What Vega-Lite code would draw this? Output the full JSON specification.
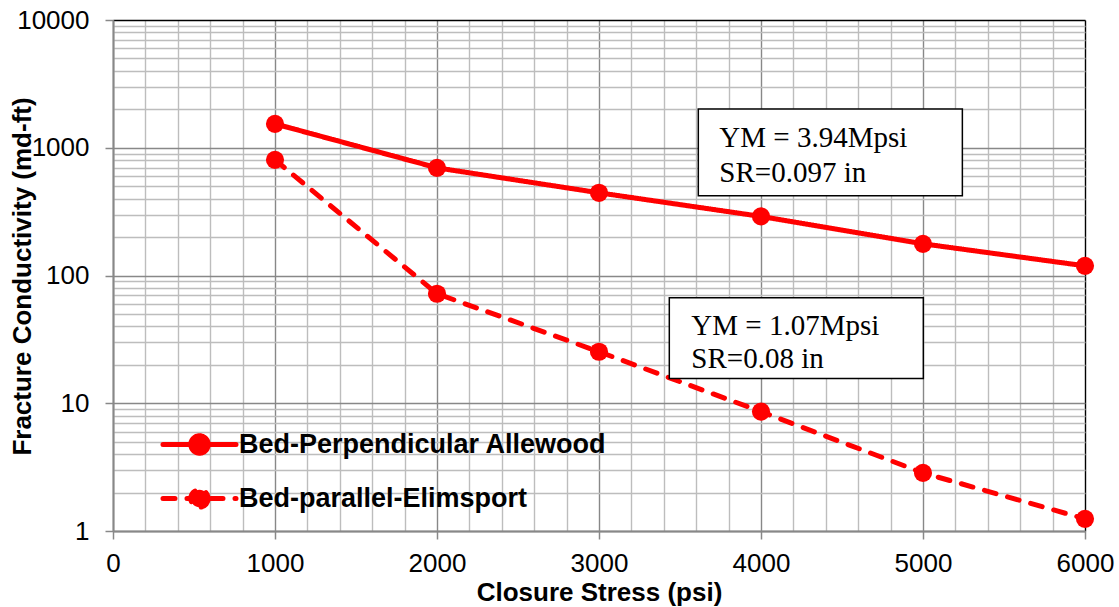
{
  "$schema": "https://vega.github.io/schema/vega-lite/v6.json",
  "width": 972,
  "height": 511,
  "autosize": {"type": "none"},
  "padding": {"left": 113, "top": 20, "right": 34, "bottom": 76},
  "background": "white",
  "config": {
    "view": {"stroke": null},
    "font": "Liberation Sans"
  },
  "data": {
    "values": [
      {"stress": 1000, "cond": 1538, "series": "Bed-Perpendicular Allewood"},
      {"stress": 2000, "cond": 696, "series": "Bed-Perpendicular Allewood"},
      {"stress": 3000, "cond": 444, "series": "Bed-Perpendicular Allewood"},
      {"stress": 4000, "cond": 290, "series": "Bed-Perpendicular Allewood"},
      {"stress": 5000, "cond": 177, "series": "Bed-Perpendicular Allewood"},
      {"stress": 6000, "cond": 119, "series": "Bed-Perpendicular Allewood"},
      {"stress": 1000, "cond": 804, "series": "Bed-parallel-Elimsport"},
      {"stress": 2000, "cond": 72, "series": "Bed-parallel-Elimsport"},
      {"stress": 3000, "cond": 25.3, "series": "Bed-parallel-Elimsport"},
      {"stress": 4000, "cond": 8.6, "series": "Bed-parallel-Elimsport"},
      {"stress": 5000, "cond": 2.85, "series": "Bed-parallel-Elimsport"},
      {"stress": 6000, "cond": 1.245, "series": "Bed-parallel-Elimsport"}
    ]
  },
  "encoding": {
    "x": {
      "field": "stress", "type": "quantitative",
      "scale": {"domain": [0, 6000], "nice": false, "zero": false},
      "axis": {
        "title": "Closure Stress (psi)",
        "values": [0,200,400,600,800,1000,1200,1400,1600,1800,2000,2200,2400,2600,2800,3000,3200,3400,3600,3800,4000,4200,4400,4600,4800,5000,5200,5400,5600,5800,6000],
        "format": "d",
        "labelExpr": "datum.value % 1000 == 0 ? datum.label : ''",
        "labelOverlap": false,
        "labelFlush": false,
        "labelBound": false,
        "labelFont": "Liberation Sans",
        "labelFontSize": 26,
        "labelColor": "#000000",
        "labelBaseline": "alphabetic",
        "labelPadding": 32,
        "tickSize": 8,
        "tickWidth": 1.5,
        "tickColor": "#888888",
        "tickOpacity": {"condition": {"test": "datum.value % 1000 == 0", "value": 1}, "value": 0},
        "domainColor": "#888888",
        "domainWidth": 2,
        "grid": true,
        "gridWidth": 1.4,
        "gridOpacity": 1,
        "gridColor": {"condition": [{"test": "datum.value == 6000", "value": "#000000"}, {"test": "datum.value % 1000 == 0", "value": "#888888"}], "value": "#bdbdbd"},
        "titleFont": "Liberation Sans",
        "titleFontSize": 26,
        "titleFontWeight": "bold",
        "titleColor": "#000000",
        "titleX": 486,
        "titleY": 69,
        "titleAlign": "center",
        "titleBaseline": "alphabetic"
      }
    },
    "y": {
      "field": "cond", "type": "quantitative",
      "scale": {"type": "log", "domain": [1, 10000], "nice": false},
      "axis": {
        "title": "Fracture Conductivity (md-ft)",
        "values": [1,2,3,4,5,6,7,8,9,10,20,30,40,50,60,70,80,90,100,200,300,400,500,600,700,800,900,1000,2000,3000,4000,5000,6000,7000,8000,9000,10000],
        "format": "d",
        "labelExpr": "indexof([1,10,100,1000,10000], datum.value) >= 0 ? datum.label : ''",
        "labelOverlap": false,
        "labelFlush": false,
        "labelBound": false,
        "labelFont": "Liberation Sans",
        "labelFontSize": 26,
        "labelColor": "#000000",
        "labelPadding": 16,
        "tickSize": 8,
        "tickWidth": 1.5,
        "tickColor": "#888888",
        "tickOpacity": {"condition": {"test": "indexof([1,10,100,1000,10000], datum.value) >= 0", "value": 1}, "value": 0},
        "domainColor": "#888888",
        "domainWidth": 2,
        "grid": true,
        "gridWidth": 1.4,
        "gridOpacity": 1,
        "gridColor": {"condition": [{"test": "datum.value == 10000", "value": "#000000"}, {"test": "indexof([1,10,100,1000], datum.value) >= 0", "value": "#888888"}], "value": "#bdbdbd"},
        "titleFont": "Liberation Sans",
        "titleFontSize": 26,
        "titleFontWeight": "bold",
        "titleColor": "#000000",
        "titleX": -91,
        "titleY": 256,
        "titleAngle": -90,
        "titleAlign": "center",
        "titleBaseline": "middle"
      }
    }
  },
  "layer": [
    {
      "mark": {"type": "line", "color": "#ff0000", "strokeWidth": 5, "strokeCap": "round"},
      "encoding": {
        "strokeDash": {
          "field": "series", "type": "nominal",
          "scale": {"domain": ["Bed-Perpendicular Allewood", "Bed-parallel-Elimsport"], "range": [[1, 0], [12, 12]]},
          "legend": {
            "orient": "none",
            "legendX": 55,
            "legendY": 393,
            "title": null,
            "padding": 0,
            "symbolType": "M-1.259,0L1.259,0M0.3,0A0.3,0.3,0,1,1,-0.3,0A0.3,0.3,0,1,1,0.3,0Z",
            "symbolSize": 3364,
            "symbolStrokeWidth": 5,
            "symbolStrokeColor": "#ff0000",
            "symbolFillColor": "#ff0000",
            "labelFont": "Liberation Sans",
            "labelFontSize": 27,
            "labelFontWeight": "bold",
            "labelColor": "#000000",
            "labelOffset": 8,
            "labelLimit": 600,
            "rowPadding": 3,
            "encode": {
              "symbols": {
                "update": {
                  "fill": {"value": "#ff0000"},
                  "stroke": {"value": "#ff0000"},
                  "strokeCap": {"value": "round"},
                  "opacity": {"value": 1}
                }
              }
            }
          }
        }
      }
    },
    {
      "mark": {"type": "point", "filled": true, "color": "#ff0000", "size": 330, "opacity": 1}
    },
    {
      "data": {
        "values": [
          {"x1": 3613, "x2": 5243, "y1": 2014, "y2": 421},
          {"x1": 3434, "x2": 5002, "y1": 67, "y2": 15.6}
        ]
      },
      "mark": {"type": "rect", "fill": "#ffffff", "stroke": "#000000", "strokeWidth": 1.5},
      "encoding": {
        "x": {"field": "x1", "type": "quantitative"},
        "x2": {"field": "x2"},
        "y": {"field": "y1", "type": "quantitative"},
        "y2": {"field": "y2"}
      }
    },
    {
      "data": {
        "values": [
          {"tx": 3743, "ty": 1016, "label": "YM = 3.94Mpsi"},
          {"tx": 3743, "ty": 541, "label": "SR=0.097 in"},
          {"tx": 3570, "ty": 34.4, "label": "YM = 1.07Mpsi"},
          {"tx": 3570, "ty": 19.0, "label": "SR=0.08 in"}
        ]
      },
      "mark": {"type": "text", "font": "Liberation Serif", "fontSize": 29, "align": "left", "baseline": "alphabetic", "color": "#000000"},
      "encoding": {
        "x": {"field": "tx", "type": "quantitative"},
        "y": {"field": "ty", "type": "quantitative"},
        "text": {"field": "label"}
      }
    }
  ]
}
